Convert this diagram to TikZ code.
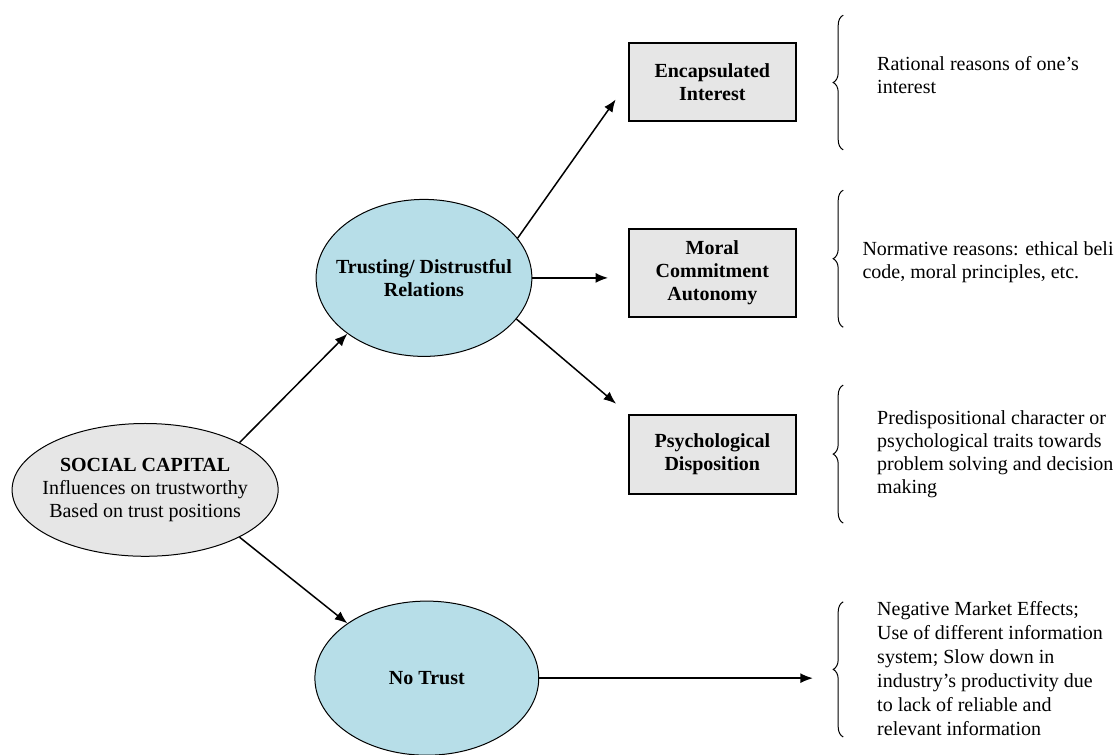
\documentclass[tikz,border=0pt]{standalone}
\usepackage{fontspec}
\setmainfont{Liberation Serif}
\usetikzlibrary{arrows.meta,shapes.geometric,decorations.pathreplacing}
\definecolor{bubbleblue}{HTML}{B7DEE8}
\definecolor{boxgray}{HTML}{E6E6E6}

\begin{document}
\begin{tikzpicture}[
        font=\fontsize{12}{13.8}\selectfont,
        bubble/.style={ellipse, draw, line width=0.6pt, fill=bubbleblue},
        bubbletext/.style={align=center, inner sep=0pt},
        factor/.style={rectangle, draw, line width=1pt, fill=boxgray, minimum width=3.52cm, align=center, font=\fontsize{12}{13.8}\selectfont\bfseries},
        arr/.style={-{Latex[length=7.5pt,width=6pt]}, line width=0.9pt},
        curly/.style={decorate, decoration={brace, amplitude=6pt}, line width=0.6pt},
        note/.style={anchor=west, align=left, inner sep=0pt}
    ]
        \useasboundingbox (0,0) rectangle (23.49,15.90);

        % the three ovals
        \node[bubble, fill=boxgray, minimum width=5.61cm, minimum height=2.8cm] (social) at (3.06,5.57) {};
        \node[bubbletext] (socialtxt) at (social) {\textbf{SOCIAL CAPITAL}\\Influences on trustworthy\\Based on trust positions};
        \node[bubble, minimum width=4.55cm, minimum height=3.31cm] (trust) at (8.94,10.04) {};
        \node[bubbletext, font=\fontsize{12}{13.8}\selectfont\bfseries] (trusttxt) at (trust) {Trusting/ Distrustful\\Relations};
        \node[bubble, minimum width=4.72cm, minimum height=3.25cm] (notrust) at (9.00,1.60) {};
        \node[bubbletext, font=\fontsize{12}{13.8}\selectfont\bfseries] (notrusttxt) at (notrust) {No Trust};

        % the three boxes
        \node[factor, minimum height=1.64cm] (encap) at (15.02,14.17) {Encapsulated\\Interest};
        \node[factor, minimum height=1.86cm] (moral) at (15.02,10.14) {Moral\\Commitment\\Autonomy};
        \node[factor, minimum height=1.67cm] (psych) at (15.02,6.32) {Psychological\\Disposition};

        \draw[arr] (social.north east) -- (trust.south west);
        \draw[arr] (social.south east) -- (notrust.north west);
        \draw[arr, shorten >=0.45cm] (trust.23) -- (encap.west);
        \draw[arr, shorten >=0.42cm] (trust.east) -- (trust.east -| moral.west);
        \draw[arr, shorten >=0.33cm] (trust.-24) -- (psych.north west);

        \coordinate (effects) at (17.14,0);
        \draw[arr] (notrust.east) -- (notrust.east -| effects);

        % braces and notes
        \draw[curly] (17.78,12.74) -- (17.78,15.58);
        \draw[curly] (17.78,9.00) -- (17.78,11.89);
        \draw[curly] (17.78,4.87) -- (17.78,7.78);
        \draw[curly] (17.78,0.36) -- (17.78,3.21);

        \node[note] (rational) at (18.49,14.31) {Rational reasons of one's\\interest};
        \node[note] (normative) at (18.18,10.37) {Normative reasons: ethical beli\\code, moral principles, etc.};
        \node[note] (predisp) at (18.49,6.33) {Predispositional character or\\psychological traits towards\\problem solving and decision\\making};
        \node[note, font=\fontsize{12}{14.4}\selectfont] (negative) at (18.49,1.80) {Negative Market Effects;\\Use of different information\\system; Slow down in\\industry's productivity due\\to lack of reliable and\\relevant information};
    \end{tikzpicture}
\end{document}
